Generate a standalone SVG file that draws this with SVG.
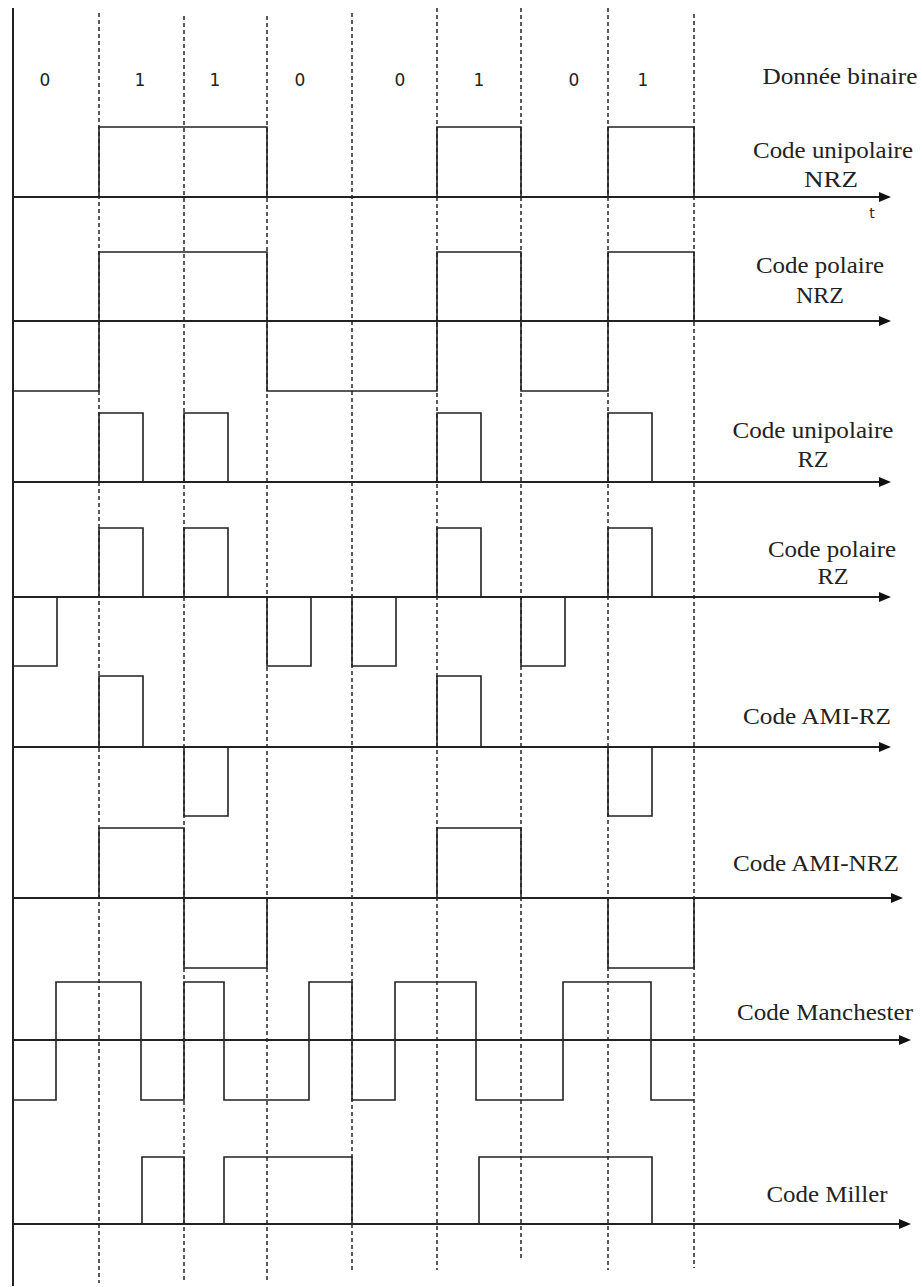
<svg xmlns="http://www.w3.org/2000/svg" width="922" height="1287" viewBox="0 0 922 1287">
<style>
.bg{fill:#fff}
.sig{fill:none;stroke:#222;stroke-width:1.6;stroke-linejoin:miter}
.axis{fill:none;stroke:#222;stroke-width:2}
.dash{fill:none;stroke:#333;stroke-width:1.6;stroke-dasharray:4 3}
.bit{font-family:"DejaVu Sans",sans-serif;font-size:17px;fill:#222;text-anchor:middle}
.lbl{font-family:"Liberation Serif","Times New Roman",serif;font-size:23px;fill:#222;text-anchor:middle}
.t{font-family:"DejaVu Sans",sans-serif;font-size:14px;fill:#222;text-anchor:middle}
</style>
<defs>
<marker id="arr" viewBox="0 0 12 10" refX="6" refY="5" markerWidth="12" markerHeight="10" markerUnits="userSpaceOnUse" orient="auto">
<path d="M0,0 L12,5 L0,10 z" fill="#111"/>
</marker>
</defs>
<rect class="bg" x="0" y="0" width="922" height="1287"/>

<g id="grid">
<line class="axis" x1="13" y1="8" x2="13" y2="1286"/>
<line class="dash" x1="99" y1="13" x2="99" y2="1283"/>
<line class="dash" x1="184" y1="16" x2="184" y2="1280"/>
<line class="dash" x1="267" y1="16" x2="267" y2="1280"/>
<line class="dash" x1="352" y1="13" x2="352" y2="1273"/>
<line class="dash" x1="437" y1="8" x2="437" y2="1270"/>
<line class="dash" x1="521" y1="8" x2="521" y2="1260"/>
<line class="dash" x1="608" y1="8" x2="608" y2="1270"/>
<line class="dash" x1="694" y1="14" x2="694" y2="1268"/>
</g>

<g id="donnee-binaire">
<text class="bit" x="45" y="86">0</text>
<text class="bit" x="140" y="86">1</text>
<text class="bit" x="215" y="86">1</text>
<text class="bit" x="300" y="86">0</text>
<text class="bit" x="400" y="86">0</text>
<text class="bit" x="479" y="86">1</text>
<text class="bit" x="574" y="86">0</text>
<text class="bit" x="643" y="86">1</text>
<text class="lbl" x="840" y="84" textLength="155" lengthAdjust="spacingAndGlyphs">Donnée binaire</text>
</g>

<g id="connectors">
<line class="axis" x1="13" y1="197" x2="885" y2="197" marker-end="url(#arr)"/>
<line class="axis" x1="13" y1="321" x2="885" y2="321" marker-end="url(#arr)"/>
<line class="axis" x1="13" y1="482" x2="885" y2="482" marker-end="url(#arr)"/>
<line class="axis" x1="13" y1="597" x2="885" y2="597" marker-end="url(#arr)"/>
<line class="axis" x1="13" y1="747" x2="885" y2="747" marker-end="url(#arr)"/>
<line class="axis" x1="13" y1="898" x2="897" y2="898" marker-end="url(#arr)"/>
<line class="axis" x1="13" y1="1040" x2="905" y2="1040" marker-end="url(#arr)"/>
<line class="axis" x1="13" y1="1224" x2="905" y2="1224" marker-end="url(#arr)"/>
</g>

<g id="unipolaire-nrz">
<path class="sig" d="M99,197 V127 H267 V197 M437,197 V127 H521 V197 M608,197 V127 H694 V197"/>
<text class="lbl" x="833" y="158" textLength="160" lengthAdjust="spacingAndGlyphs">Code unipolaire</text>
<text class="lbl" x="831" y="187" textLength="54" lengthAdjust="spacingAndGlyphs">NRZ</text>
<text class="t" x="872" y="218">t</text>
</g>

<g id="polaire-nrz">
<path class="sig" d="M13,321 V391 H99 V252 H267 V391 H437 V252 H521 V391 H608 V252 H694 V321"/>
<text class="lbl" x="820" y="273" textLength="128" lengthAdjust="spacingAndGlyphs">Code polaire</text>
<text class="lbl" x="820" y="303" textLength="48" lengthAdjust="spacingAndGlyphs">NRZ</text>
</g>

<g id="unipolaire-rz">
<path class="sig" d="M99,482 V413 H143 V482 M184,482 V413 H228 V482 M437,482 V413 H481 V482 M608,482 V413 H652 V482"/>
<text class="lbl" x="813" y="438" textLength="161" lengthAdjust="spacingAndGlyphs">Code unipolaire</text>
<text class="lbl" x="813" y="467" textLength="31" lengthAdjust="spacingAndGlyphs">RZ</text>
</g>

<g id="polaire-rz">
<path class="sig" d="M99,597 V528 H143 V597 M184,597 V528 H228 V597 M437,597 V528 H481 V597 M608,597 V528 H652 V597 M13,597 V666 H57 V597 M267,597 V666 H311 V597 M352,597 V666 H396 V597 M521,597 V666 H565 V597"/>
<text class="lbl" x="832" y="557" textLength="128" lengthAdjust="spacingAndGlyphs">Code polaire</text>
<text class="lbl" x="833" y="584" textLength="31" lengthAdjust="spacingAndGlyphs">RZ</text>
</g>

<g id="ami-rz">
<path class="sig" d="M99,747 V676 H143 V747 M437,747 V676 H481 V747 M184,747 V816 H228 V747 M608,747 V816 H652 V747"/>
<text class="lbl" x="817" y="724" textLength="148" lengthAdjust="spacingAndGlyphs">Code AMI-RZ</text>
</g>

<g id="ami-nrz">
<path class="sig" d="M99,898 V828 H184 V968 H267 V898 M437,898 V828 H521 V898 M608,898 V968 H694 V898"/>
<text class="lbl" x="816" y="871" textLength="166" lengthAdjust="spacingAndGlyphs">Code AMI-NRZ</text>
</g>

<g id="manchester">
<path class="sig" d="M13,1100 H56 V982 H141 V1100 H184 V982 H224 V1100 H309 V982 H352 V1100 H395 V982 H476 V1100 H563 V982 H651 V1100 H694"/>
<text class="lbl" x="825" y="1020" textLength="176" lengthAdjust="spacingAndGlyphs">Code Manchester</text>
</g>

<g id="miller">
<path class="sig" d="M142,1224 V1157 H184 V1224 M224,1224 V1157 H352 V1224 M479,1224 V1157 H652 V1224"/>
<text class="lbl" x="827" y="1202" textLength="121" lengthAdjust="spacingAndGlyphs">Code Miller</text>
</g>
</svg>
